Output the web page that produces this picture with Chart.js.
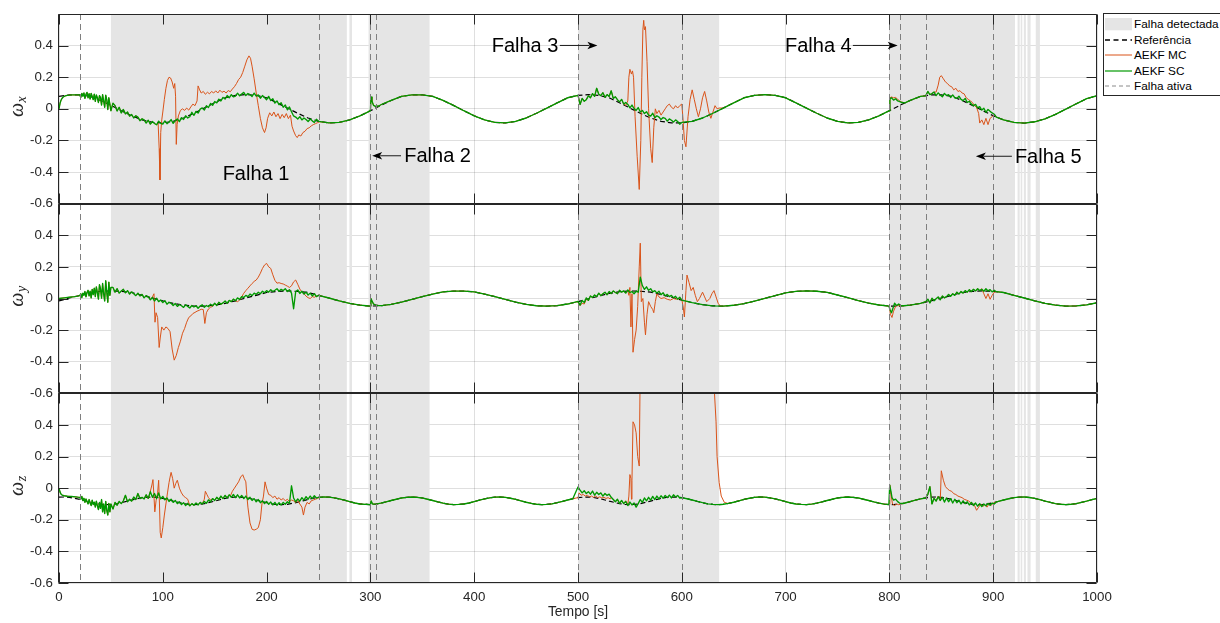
<!DOCTYPE html>
<html><head><meta charset="utf-8">
<script src="https://cdn.jsdelivr.net/npm/chart.js"></script>
<style>
html,body{margin:0;padding:0;background:#fff;overflow:hidden;}
#wrap{position:relative;width:1220px;height:623px;}
canvas{display:block;}
#legend{position:absolute;left:1103px;top:13px;width:130px;height:83px;box-sizing:border-box;border:1px solid #262626;background:#fff;font-family:'Liberation Sans',Arial,sans-serif;font-size:11.8px;color:#000;}
#legend .sw{position:absolute;left:1px;}
#legend .tx{position:absolute;left:30px;line-height:14px;white-space:nowrap;}
</style></head>
<body>
<div id="wrap">
<canvas id="c" width="1220" height="623"></canvas>
<div id="legend">
 <svg class="sw" style="top:3.7px" width="27" height="13"><rect x="0" y="0" width="27" height="12.3" fill="#e5e5e5"/></svg><span class="tx" style="top:3px">Falha detectada</span>
 <svg class="sw" style="top:20.5px" width="27" height="10"><line x1="0" y1="5" x2="27" y2="5" stroke="#000" stroke-width="1.6" stroke-dasharray="5,3.5"/></svg><span class="tx" style="top:18.5px">Referência</span>
 <svg class="sw" style="top:36px" width="27" height="10"><line x1="0" y1="5" x2="27" y2="5" stroke="#D95319" stroke-width="1"/></svg><span class="tx" style="top:34px">AEKF MC</span>
 <svg class="sw" style="top:51.5px" width="27" height="10"><line x1="0" y1="5" x2="27" y2="5" stroke="#009900" stroke-width="1.2"/></svg><span class="tx" style="top:49.5px">AEKF SC</span>
 <svg class="sw" style="top:67px" width="27" height="10"><line x1="0" y1="5" x2="27" y2="5" stroke="#8a8a8a" stroke-width="1" stroke-dasharray="4,3"/></svg><span class="tx" style="top:65px">Falha ativa</span>
</div>
</div>
<script>
// ---------------- DATA ----------------
const tStep10 = 10, tStep5 = 5;
const refX = [0.079,0.088,0.088,0.079,0.053,0.022,-0.012,-0.044,-0.070,-0.086,
-0.089,-0.079,-0.058,-0.028,0.005,0.038,0.070,0.085,0.090,0.085,
0.070,0.038,0.005,-0.028,-0.058,-0.079,-0.089,-0.086,-0.070,-0.044,
-0.012,0.022,0.053,0.079,0.088,0.088,0.079,0.053,0.022,-0.012,
-0.044,-0.070,-0.086,-0.089,-0.079,-0.058,-0.028,0.005,0.038,0.070,
0.085,0.090,0.085,0.070,0.038,0.005,-0.028,-0.058,-0.079,-0.089,
-0.089,-0.079,-0.058,-0.028,0.005,0.038,0.070,0.085,0.090,0.085,
0.070,0.038,0.005,-0.028,-0.058,-0.079,-0.089,-0.086,-0.070,-0.044,
-0.012,0.022,0.053,0.079,0.088,0.088,0.079,0.053,0.022,-0.012,
-0.044,-0.070,-0.086,-0.090,-0.082,-0.063,-0.035,-0.002,0.032,0.064,
0.083];
const refY = [-0.015,0.003,0.020,0.038,0.045,0.048,0.045,0.038,0.020,0.003,
-0.015,-0.031,-0.042,-0.048,-0.048,-0.042,-0.031,-0.015,0.003,0.020,
0.038,0.045,0.048,0.045,0.038,0.020,0.003,-0.015,-0.031,-0.042,
-0.048,-0.046,-0.037,-0.023,-0.006,0.012,0.028,0.042,0.047,0.047,
0.042,0.028,0.012,-0.006,-0.023,-0.037,-0.046,-0.048,-0.045,-0.035,
-0.020,-0.002,0.015,0.032,0.043,0.048,0.046,0.040,0.025,0.008,
-0.010,-0.026,-0.039,-0.047,-0.048,-0.043,-0.032,-0.017,0.001,0.018,
0.036,0.045,0.048,0.046,0.039,0.022,0.005,-0.013,-0.029,-0.041,
-0.048,-0.048,-0.042,-0.031,-0.015,0.003,0.020,0.038,0.045,0.048,
0.045,0.038,0.020,0.003,-0.015,-0.031,-0.042,-0.048,-0.047,-0.040,
-0.027];
const refZ = [-0.057,-0.056,-0.058,-0.064,-0.071,-0.080,-0.089,-0.096,-0.102,-0.104,
-0.103,-0.099,-0.092,-0.084,-0.075,-0.067,-0.060,-0.057,-0.056,-0.059,
-0.065,-0.073,-0.082,-0.090,-0.098,-0.102,-0.104,-0.102,-0.098,-0.090,
-0.082,-0.073,-0.065,-0.059,-0.056,-0.057,-0.060,-0.067,-0.075,-0.084,
-0.092,-0.099,-0.103,-0.104,-0.102,-0.096,-0.089,-0.080,-0.071,-0.064,
-0.058,-0.056,-0.057,-0.061,-0.068,-0.076,-0.085,-0.094,-0.100,-0.103,
-0.104,-0.101,-0.095,-0.087,-0.078,-0.070,-0.062,-0.058,-0.056,-0.058,
-0.062,-0.070,-0.078,-0.087,-0.095,-0.101,-0.104,-0.103,-0.100,-0.094,
-0.085,-0.076,-0.068,-0.061,-0.057,-0.056,-0.058,-0.064,-0.071,-0.080,
-0.089,-0.096,-0.102,-0.104,-0.103,-0.099,-0.092,-0.084,-0.075,-0.067,
-0.060,-0.057,-0.056,-0.059,-0.065,-0.073,-0.082,-0.090,-0.098,-0.102,
-0.104,-0.102,-0.098,-0.090,-0.082,-0.073,-0.065,-0.059,-0.056,-0.057,
-0.060,-0.067,-0.075,-0.084,-0.092,-0.099,-0.103,-0.104,-0.102,-0.096,
-0.089,-0.080,-0.071,-0.064,-0.058,-0.056,-0.057,-0.061,-0.068,-0.076,
-0.085,-0.094,-0.100,-0.103,-0.104,-0.101,-0.095,-0.087,-0.078,-0.070,
-0.062,-0.058,-0.056,-0.058,-0.062,-0.070,-0.078,-0.087,-0.095,-0.101,
-0.104,-0.103,-0.100,-0.094,-0.085,-0.076,-0.068,-0.061,-0.057,-0.056,
-0.058,-0.064,-0.071,-0.080,-0.089,-0.096,-0.102,-0.104,-0.103,-0.099,
-0.092,-0.084,-0.075,-0.067,-0.060,-0.057,-0.056,-0.059,-0.065,-0.073,
-0.082,-0.090,-0.098,-0.102,-0.104,-0.102,-0.098,-0.090,-0.082,-0.073,
-0.065];

// AEKF SC (green): stretches where it departs from the reference
const scX0 = [0,0, 1,0.035, 2,0.055, 3,0.067, 4,0.075, 6,0.082, 8,0.085, 10,0.087, 13,0.088, 16,0.088, 18,0.088];
const scX1a = [0.088,0.072,0.098,0.080,0.101,0.066,0.092,0.104,0.070,0.096,
0.062,0.098,0.078,0.058,0.093,0.047,0.088,0.068,0.040,0.084,
0.071,0.024,0.090,0.050,0.010,0.086,0.058,-0.004,0.070,0.030,-0.012];
const scX1 = [0.036,0.020,-0.014,0.010,
-0.026,-0.004,-0.032,-0.020,-0.046,-0.036,-0.058,-0.044,-0.052,-0.075,
-0.063,-0.070,-0.090,-0.072,-0.097,-0.080,-0.093,-0.101,-0.078,-0.092,
-0.097,-0.076,-0.094,-0.083,-0.068,-0.092,-0.074,-0.064,-0.081,-0.056,
-0.067,-0.044,-0.058,-0.050,-0.022,-0.041,-0.016,-0.027,-0.002,0.006,
-0.008,0.020,0.008,0.034,0.022,0.046,0.038,0.061,0.050,0.072,
0.062,0.084,0.070,0.090,0.076,0.081,0.099,0.082,0.094,0.104,
0.084,0.097,0.090,0.078,0.099,0.081,0.088,0.067,0.084,0.072,
0.058,0.079,0.052,0.064,0.036,0.050,0.026,0.038,0.010,0.024,
-0.006,0.012,-0.018,-0.045,-0.052,-0.064,-0.050,-0.070,-0.058,-0.068,
-0.080,-0.064,-0.076,-0.086,-0.066,-0.079];
const scX2 = [296,-0.025, 299,-0.015, 300,-0.012, 300.6,0.075, 301.5,0.05, 303,0.022, 305,0.015, 308,0.018, 312,0.032];
const scX3 = [0.085,0.028,0.066,0.048,0.058,0.082,0.070,0.096,0.079,0.130,
0.092,0.084,0.102,0.073,0.090,0.078,0.114,0.066,0.076,0.058,
0.044,0.060,0.030,0.040,0.028,0.006,0.024,0.002,-0.010,0.008,
-0.020,-0.010,-0.030,-0.018,-0.040,-0.046,-0.028,-0.056,-0.044,-0.052,
-0.068,-0.055,-0.060,-0.078,-0.064,-0.072,-0.084,-0.070,-0.080,-0.097,
-0.086];
const scX4 = [798,-0.018, 800,-0.012, 800.5,0.062, 802,0.070, 804,0.055, 806,0.064, 808,0.050, 810,0.046, 812,0.040, 815,0.038];
const scX5 = [0.082,0.110,0.090,0.096,0.106,0.084,0.101,0.088,0.076,0.098,
0.084,0.090,0.072,0.088,0.070,0.066,0.080,0.060,0.052,0.066,
0.040,0.048,0.030,0.020,0.028,0.006,0.014,-0.008,0.004,-0.022,
-0.004,-0.016,-0.026,-0.034,-0.052];

const scY0 = [0,0.0, 5,0.004, 10,0.008, 15,0.012, 18,0.015];
const scY1a = [0.018,0.030,0.006,0.034,0.020,0.044,0.010,0.038,0.052,0.016,
0.046,0.004,0.058,0.024,0.066,0.012,0.074,0.036,-0.004,0.088,
0.060,0.002,0.095,0.030,-0.016,0.112,0.040,-0.024,0.104,0.020,0.070];
const scY1 = [0.070,0.040,0.062,0.034,
0.048,0.058,0.036,0.050,0.028,0.042,0.030,0.018,0.034,0.016,
0.026,0.004,0.018,0.010,-0.008,0.006,-0.016,0.002,-0.020,-0.010,
-0.026,-0.014,-0.036,-0.024,-0.030,-0.044,-0.032,-0.050,-0.038,-0.046,
-0.056,-0.040,-0.050,-0.060,-0.044,-0.054,-0.046,-0.062,-0.048,-0.040,
-0.056,-0.044,-0.052,-0.036,-0.046,-0.030,-0.044,-0.024,-0.036,-0.028,
-0.016,-0.030,-0.012,-0.020,-0.004,-0.014,0.004,-0.006,0.012,0.006,
0.020,0.012,0.028,0.018,0.034,0.026,0.040,0.030,0.046,0.036,
0.050,0.040,0.056,0.044,0.052,0.062,0.046,0.058,0.050,0.062,
0.044,0.056,0.034,-0.065,0.042,0.054,0.032,0.046,0.028,0.040,
0.022,0.034,0.016,0.030,0.012,0.020];
const scY2 = [296,-0.046, 299,-0.048, 300,-0.048, 300.5,0.0, 301.5,-0.015, 303,-0.035, 305,-0.04, 308,-0.045, 312,-0.044];
const scY3 = [-0.018,-0.042,-0.012,-0.026,0.004,-0.012,0.016,0.006,0.022,0.012,
0.034,0.018,0.030,0.040,0.024,0.044,0.032,0.048,0.038,0.030,
0.052,0.040,0.048,0.034,0.054,0.038,0.044,0.030,0.046,0.040,
0.135,0.082,0.058,0.074,0.052,0.062,0.042,0.050,0.034,0.046,
0.024,0.036,0.016,0.026,0.012,0.020,0.004,0.014,-0.004,0.008,
-0.010];
const scY4 = [798,-0.047, 799.5,-0.048, 800.5,-0.07, 802,-0.09, 803.5,-0.06, 805,-0.03, 807,-0.045, 809,-0.035, 811,-0.046, 814,-0.046];
const scY5 = [-0.020,-0.004,-0.028,0.002,-0.014,-0.002,0.010,-0.008,0.016,0.004,
0.012,0.026,0.014,0.030,0.020,0.040,0.028,0.044,0.034,0.050,
0.040,0.056,0.044,0.058,0.048,0.062,0.050,0.058,0.046,0.062,
0.048,0.056,0.042,0.052,0.043];

const scZ0 = [0,0.0, 1,-0.025, 2,-0.038, 3,-0.044, 5,-0.048, 8,-0.051, 12,-0.053, 16,-0.055, 18,-0.057];
const scZ1a = [-0.058,-0.070,-0.052,-0.078,-0.064,-0.090,-0.068,-0.084,-0.100,-0.072,
-0.094,-0.110,-0.076,-0.104,-0.088,-0.120,-0.082,-0.112,-0.136,-0.090,
-0.128,-0.072,-0.150,-0.100,-0.160,-0.084,-0.140,-0.170,-0.096,-0.150,-0.100];
const scZ1 = [-0.132,-0.090,-0.108,-0.084,
-0.098,-0.080,-0.045,-0.086,-0.070,-0.082,-0.056,-0.072,-0.034,-0.066,
-0.058,-0.068,-0.042,-0.064,-0.022,-0.058,-0.034,-0.066,-0.030,-0.068,
-0.052,-0.074,-0.062,-0.084,-0.070,-0.090,-0.078,-0.098,-0.086,-0.104,
-0.092,-0.110,-0.096,-0.112,-0.098,-0.108,-0.094,-0.106,-0.090,-0.100,
-0.084,-0.096,-0.074,-0.086,-0.066,-0.078,-0.058,-0.072,-0.050,-0.066,
-0.046,-0.062,-0.042,-0.058,-0.040,-0.060,-0.042,-0.062,-0.046,-0.066,
-0.050,-0.072,-0.058,-0.078,-0.066,-0.086,-0.072,-0.092,-0.080,-0.098,
-0.084,-0.102,-0.088,-0.106,-0.090,-0.108,-0.092,-0.106,-0.090,-0.102,
-0.086,-0.096,0.015,-0.062,-0.086,-0.068,-0.082,-0.060,-0.076,-0.054,
-0.070,-0.050,-0.066,-0.048,-0.062,-0.058];
const scZ2 = [296,-0.102, 299,-0.104, 300,-0.104, 300.7,-0.08, 302,-0.1, 305,-0.101, 310,-0.095];
const scZ3 = [0.008,-0.012,-0.030,-0.016,-0.034,-0.022,-0.038,-0.018,-0.044,-0.026,
-0.040,-0.030,-0.050,-0.034,-0.046,-0.038,-0.058,-0.072,-0.086,-0.070,
-0.096,-0.078,-0.098,-0.084,-0.110,-0.088,-0.106,-0.094,-0.120,-0.098,
-0.072,-0.090,-0.062,-0.080,-0.058,-0.076,-0.052,-0.072,-0.050,-0.068,
-0.048,-0.064,-0.046,-0.060,-0.044,-0.062,-0.042,-0.056,-0.046,-0.062,
-0.060];
const scZ4 = [798,-0.103, 799.5,-0.104, 800.3,0.02, 801.5,-0.02, 802.5,-0.06, 804,-0.075, 806,-0.07, 808,-0.085, 810,-0.095, 813,-0.097];
const scZ5 = [-0.062,-0.040,0.010,-0.100,-0.064,-0.082,-0.054,-0.078,-0.058,-0.088,
-0.062,-0.086,-0.066,-0.094,-0.070,-0.092,-0.076,-0.100,-0.080,-0.098,
-0.086,-0.106,-0.090,-0.110,-0.094,-0.114,-0.098,-0.116,-0.100,-0.112,
-0.096,-0.108,-0.094,-0.100,-0.087];

// AEKF MC (orange): stretches where it departs from AEKF SC, [t, v, ...]
const mcX1 = [94,-0.100, 95.5,-0.09, 96.5,-0.25, 97.3,-0.45, 98,-0.15, 99,-0.07, 100,-0.02, 101.5,0.06, 103,0.13, 104.5,0.18, 106,0.2, 107.5,0.195, 109,0.17, 110.5,0.13, 111.5,0.16, 112.3,0.08, 113,-0.225, 113.8,-0.1, 115,-0.045, 117,-0.01, 119,0.0, 121,-0.01, 123,0.005, 125,-0.008, 127,0.012, 129,0.03, 131,0.02, 133,0.05, 134,0.145, 135.5,0.12, 137,0.1, 139,0.11, 141,0.092, 143,0.105, 145,0.095, 147,0.11, 149,0.1, 151,0.114, 153,0.1, 155,0.118, 157,0.104, 159,0.112, 161,0.1, 163,0.116, 165,0.108, 167,0.125, 169,0.14, 171,0.16, 173,0.185, 175,0.2, 177,0.23, 179,0.27, 181,0.31, 183,0.335, 184.5,0.32, 186,0.27, 188,0.19, 190,0.1, 192,0.02, 194,-0.06, 196,-0.12, 198,-0.15, 199.5,-0.12, 201,-0.06, 203,-0.025, 205,-0.045, 207,-0.02, 209,-0.05, 211,-0.03, 213,-0.062, 215,-0.035, 217,-0.056, 219,-0.03, 221,-0.062, 223,-0.04, 224.5,-0.11, 226,-0.14, 228,-0.17, 229.5,-0.182, 231,-0.165, 233,-0.172, 235,-0.15, 237,-0.142, 239,-0.125, 241,-0.12, 243,-0.108, 245,-0.1, 247,-0.094, 249,-0.088, 251,-0.082];
const mcX2 = [546,0.022, 548,0.05, 549,0.2, 550,0.25, 551.5,0.22, 552.5,0.24, 553.5,0.2, 555,-0.05, 557,-0.3, 559,-0.51, 560.5,-0.2, 561.5,0.2, 562.5,0.5, 563.3,0.56, 564,0.5, 565,0.52, 566.5,0.3, 568,0.0, 570,-0.25, 571.5,-0.34, 573,-0.12, 574.5,0.0, 576,-0.03, 578,-0.01, 580,-0.04, 582,-0.02, 584,0.0, 586,0.02, 588,0.03, 590,0.01, 592,0.0, 594,0.02, 596,0.005, 598,0.02, 600,0.03, 601,-0.05, 602.5,-0.2, 604,-0.24, 606,-0.05, 608,0.06, 610,0.12, 612,0.06, 614,0.0, 616,-0.05, 618,0.0, 620,0.07, 622,0.11, 624,0.05, 626,-0.02, 628,-0.06, 630,-0.02, 632,0.02, 634,0.0, 636,0.005, 640,0.005];
const mcX3 = [800,-0.012, 800.5,0.07, 802,0.075, 804,0.07, 806,0.072, 808,0.06, 810,0.05, 812,0.042, 815,0.038];
const mcX4 = [845,0.106, 847,0.15, 848.5,0.2, 850,0.21, 852,0.19, 854,0.17, 856,0.16, 858,0.145, 860,0.14, 862,0.12, 864,0.13, 866,0.11, 868,0.115, 870,0.1, 872,0.095, 874,0.07, 876,0.06, 878,0.05, 880,0.04, 882,0.02, 884,0.01, 886,-0.03, 887,-0.09, 889,-0.07, 891,-0.1, 893,-0.06, 895,-0.1, 897,-0.06, 899,-0.05, 901,-0.035, 903,-0.052];

const mcY1 = [90,0.01, 91.5,0.03, 92.5,-0.15, 93.5,-0.09, 95,-0.12, 96.5,-0.31, 97.5,-0.25, 99,-0.18, 101,-0.2, 103,-0.18, 105,-0.19, 107,-0.21, 109,-0.32, 111,-0.39, 113,-0.36, 115,-0.31, 117,-0.27, 119,-0.22, 121,-0.19, 123,-0.15, 125,-0.12, 127,-0.11, 129,-0.095, 131,-0.088, 133,-0.08, 135,-0.075, 137,-0.068, 139,-0.07, 140.5,-0.158, 142,-0.09, 144,-0.066, 146,-0.055, 148,-0.05];
const mcY2 = [172,-0.02, 174,-0.01, 176,0.01, 178,0.033, 180,0.05, 182,0.065, 184,0.08, 186,0.095, 188,0.108, 190,0.117, 192,0.135, 194,0.16, 196,0.19, 198,0.212, 200,0.222, 202,0.2, 204,0.19, 206,0.15, 208,0.115, 210,0.097, 212,0.1, 214,0.095, 216,0.092, 218,0.085, 220,0.078, 222,0.07, 224,0.08, 226,0.105, 228,0.117, 230,0.09, 232,0.06, 234,0.04, 236,0.03, 238,0.015, 240,0.005, 242,0.0, 244,0.012, 246,0.008, 248,0.015, 250,0.02];
const mcY3 = [500,-0.02, 502,-0.045, 504,-0.03, 506,-0.035, 508,-0.005];
const mcY4 = [548,0.05, 549,0.02, 550,0.07, 551,-0.18, 552,0.03, 553,-0.34, 554.5,-0.26, 556,-0.2, 557.5,-0.05, 559,0.2, 560,0.35, 561,-0.02, 562.5,0.0, 564,-0.15, 565,-0.23, 566.5,-0.1, 568,-0.02, 570,-0.05, 572,-0.07, 573,-0.09, 574.5,-0.02, 576,0.03, 578,0.01, 580,0.0, 583,0.005, 586,-0.005, 589,-0.01, 592,0.0, 595,-0.005, 598,0.0, 600,-0.005, 601.5,-0.06, 602.5,-0.117, 604,0.05, 605,0.148, 607,0.1, 609,0.05, 611,0.07, 613,0.02, 615,-0.02, 617,0.0, 620,0.04, 622,0.01, 624,-0.02, 627,0.0, 629,0.03, 631,0.05, 633,0.01, 635,-0.03, 637,-0.048, 640,-0.048];
const mcY5 = [798,-0.047, 800,-0.05, 801,-0.1, 802.5,-0.12, 804,-0.08, 806,-0.05, 808,-0.045, 811,-0.046];
const mcY6 = [889,0.062, 891,0.03, 893,0.0, 895,0.03, 897,-0.005, 899,0.02, 901,0.04, 903,0.043];

const mcZ1 = [86,-0.068, 88,-0.02, 89.5,0.02, 90.5,0.054, 91.5,-0.05, 92.3,-0.15, 93.5,-0.08, 95,-0.03, 96,0.05, 96.8,-0.1, 97.5,-0.28, 98.5,-0.315, 100,-0.25, 101.5,-0.17, 103,-0.1, 104.5,-0.03, 106,0.035, 107,0.07, 108,0.1, 109.5,0.06, 111,0.0, 112.5,0.03, 114,0.05, 116,0.0, 118,-0.03, 120,-0.05, 122,-0.06, 124,-0.07];
const mcZ2 = [140,-0.07, 141,-0.02, 142.5,-0.04, 144,-0.06, 146,-0.075];
const mcZ3 = [165,-0.05, 167,-0.02, 169,0.0, 171,0.02, 173,0.04, 175,0.07, 177,0.085, 178.5,0.06, 180,0.04, 181,-0.05, 182,-0.12, 184,-0.22, 186,-0.26, 188,-0.265, 190,-0.26, 192,-0.25, 194,-0.2, 195.5,-0.1, 197,-0.05, 198.5,0.04, 200,0.0, 202,-0.04, 204,-0.045, 206,-0.06, 208,-0.05, 210,-0.07, 212,-0.06, 214,-0.075, 216,-0.065, 218,-0.08, 220,-0.07, 222,-0.085, 224,-0.075, 226,-0.08, 228,-0.09, 230,-0.08, 232,-0.1, 234,-0.12, 235.5,-0.17, 237,-0.12, 239,-0.09, 241,-0.1, 243,-0.08, 245,-0.075, 247,-0.07, 249,-0.065, 251,-0.058];
const mcZ4 = [500,-0.06, 501,-0.03, 503,-0.045, 505,-0.04, 507,-0.05, 509,-0.045, 511,-0.055, 513,-0.05, 515,-0.058, 517,-0.05, 519,-0.06, 521,-0.055, 523,-0.062, 525,-0.058, 527,-0.065, 529,-0.06, 531,-0.068];
const mcZ5 = [546,-0.08, 548,-0.105, 549,-0.05, 550,0.086, 551,0.06, 551.5,-0.07, 552,0.05, 553,0.42, 554.5,0.4, 556,0.35, 557.5,0.2, 559,0.14, 560,0.8, 561,1.5, 630,1.5, 631.5,0.6, 633,0.42, 634,0.2, 636,0.035, 638,-0.05, 641,-0.09, 644,-0.096];
const mcZ6 = [798,-0.103, 800,-0.104, 800.4,0.02, 801.5,-0.04, 803,-0.1, 805,-0.11, 807,-0.1, 809,-0.105, 811,-0.1, 813,-0.097];
const mcZ7 = [847,-0.05, 849,-0.08, 850,0.11, 852,0.05, 854,0.01, 856,-0.005, 858,-0.015, 860,-0.02, 862,-0.035, 864,-0.04, 866,-0.05, 868,-0.055, 870,-0.06, 872,-0.07, 874,-0.075, 876,-0.08, 878,-0.09, 880,-0.095, 882,-0.11, 884,-0.14, 886,-0.12, 888,-0.1, 890,-0.115, 892,-0.105, 894,-0.12, 896,-0.1, 898,-0.11, 900,-0.095, 903,-0.087];

// fault detected intervals (s) and fault activation instants (s)
const detStart = [50, 279.8, 298.2, 500, 800, 923.5, 926.5, 929.5, 933, 941];
const detEnd   = [277.3, 282.3, 357, 636, 921, 925.5, 928, 931.5, 936, 945];
const faultT = [20, 250, 300, 305, 500, 600, 800, 810, 835, 900];

// annotations
const annText = ['Falha 1', 'Falha 2', 'Falha 3', 'Falha 4', 'Falha 5'];
const annT = [189.8, 332.6, 481.1, 763.7, 920.9];
const annV = [-0.406, -0.297, 0.401, 0.401, -0.300];
const annAlign = ['center', 'left', 'right', 'right', 'left'];
const arrFrom = [null, 329.5, 482.5, 764.8, 918];
const arrTo   = [null, 301.7, 518.7, 808.0, 883.3];

// ---------------- BUILD ----------------
const P = f => { const o = []; for (let i = 0; i < f.length; i += 2) o.push({x: f[i], y: f[i + 1]}); return o; };
const S = (t0, v, dt = 2) => v.map((y, i) => ({x: t0 + dt * i, y}));
const R = (step, v) => v.map((y, i) => ({x: i * step, y}));
function overlay(base, segs) {
  const rng = segs.map(s => [s[0].x, s[s.length - 1].x]);
  const out = base.filter(p => !rng.some(([a, b]) => p.x >= a && p.x <= b));
  segs.forEach(s => out.push(...s));
  return out.sort((p, q) => p.x - q.x);
}
const rX = R(tStep10, refX), rY = R(tStep10, refY), rZ = R(tStep5, refZ);
const gX = overlay(rX, [P(scX0), S(20, scX1a, 1), S(52, scX1), P(scX2), S(500, scX3), P(scX4), S(835, scX5)]);
const gY = overlay(rY, [P(scY0), S(20, scY1a, 1), S(52, scY1), P(scY2), S(500, scY3), P(scY4), S(835, scY5)]);
const gZ = overlay(rZ, [P(scZ0), S(20, scZ1a, 1), S(52, scZ1), P(scZ2), S(500, scZ3), P(scZ4), S(835, scZ5)]);
const oX = overlay(gX, [P(mcX1), P(mcX2), P(mcX3), P(mcX4)]);
const oY = overlay(gY, [P(mcY1), P(mcY2), P(mcY3), P(mcY4), P(mcY5), P(mcY6)]);
const oZ = overlay(gZ, [P(mcZ1), P(mcZ2), P(mcZ3), P(mcZ4), P(mcZ5), P(mcZ6), P(mcZ7)]);

const GREEN = '#009900', ORANGE = '#D95319', SHADE = '#e5e5e5', AX = '#262626';
const FONT = "'Liberation Sans', Arial, Helvetica, sans-serif";
Chart.defaults.font.family = FONT;

function sets(id, r, o, g) {
  return [
    {label: 'AEKF SC', data: g, yAxisID: id, borderColor: GREEN, borderWidth: 1.35, order: 1},
    {label: 'AEKF MC', data: o, yAxisID: id, borderColor: ORANGE, borderWidth: 1, order: 2},
    {label: 'Referência', data: r, yAxisID: id, borderColor: '#000', borderWidth: 1.2, borderDash: [5, 3], order: 3}
  ];
}
const fmt = v => { const r = Math.round(v * 10) / 10; return r === 0 ? '0' : String(r); };
const yOpt = w => ({
  type: 'linear', position: 'left', stack: 'ax', stackWeight: 1, weight: w,
  min: -0.6, max: 0.6,
  ticks: {stepSize: 0.2, autoSkip: false, font: {size: 13.3}, color: AX, padding: 6, callback: v => Math.abs(v - 0.6) < 1e-6 ? '' : fmt(v)},
  grid: {color: 'rgba(38,38,38,0.15)', drawTicks: false},
  border: {display: false},
  afterFit: s => { s.width = 59; }
});

const clipPlugin = {
  id: 'clipY',
  beforeDatasetDraw(chart, args) {
    const ys = chart.scales[args.meta.yAxisID], ca = chart.chartArea, ctx = chart.ctx;
    ctx.save(); ctx.beginPath(); ctx.rect(ca.left, ys.top, ca.right - ca.left, ys.bottom - ys.top); ctx.clip();
  },
  afterDatasetDraw(chart) { chart.ctx.restore(); }
};

function arrow(ctx, x1, x2, y) {
  ctx.beginPath(); ctx.moveTo(x1, y); ctx.lineTo(x2 + (x2 < x1 ? 8 : -8), y); ctx.stroke();
  const d = x2 < x1 ? 1 : -1;
  ctx.beginPath(); ctx.moveTo(x2, y); ctx.lineTo(x2 + d * 10, y - 3.8); ctx.lineTo(x2 + d * 7.5, y); ctx.lineTo(x2 + d * 10, y + 3.8); ctx.closePath(); ctx.fill();
}

const deco = {
  id: 'deco',
  beforeDatasetsDraw(chart) {
    const {ctx, chartArea: ca, scales: {x}} = chart;
    ctx.save(); ctx.fillStyle = SHADE;
    for (let i = 0; i < detStart.length; i++) {
      const a = x.getPixelForValue(detStart[i]), b = x.getPixelForValue(detEnd[i]);
      ctx.fillRect(a, ca.top, b - a, ca.bottom - ca.top);
    }
    ctx.restore();
  },
  afterDatasetsDraw(chart) {
    const {ctx, chartArea: ca, scales} = chart; const x = scales.x;
    ctx.save();
    ctx.strokeStyle = '#7f7f7f'; ctx.lineWidth = 1; ctx.setLineDash([6, 4]);
    faultT.forEach(t => { const px = Math.round(x.getPixelForValue(t)) + 0.5; ctx.beginPath(); ctx.moveTo(px, ca.top); ctx.lineTo(px, ca.bottom); ctx.stroke(); });
    ctx.setLineDash([]);
    ctx.strokeStyle = AX; ctx.lineWidth = 1;
    const L = Math.round(ca.left) - 0.5, Rr = Math.round(ca.right) - 0.5, TL = 10;
    ['y1', 'y2', 'y3'].forEach(id => {
      const ys = scales[id]; const T = Math.round(ys.top) + 0.5, B = Math.round(ys.bottom) - 0.5;
      ctx.beginPath();
      ctx.moveTo(L, T); ctx.lineTo(Rr, T); ctx.moveTo(L, B); ctx.lineTo(Rr, B);
      ctx.moveTo(L, T); ctx.lineTo(L, B); ctx.moveTo(Rr, T); ctx.lineTo(Rr, B);
      ys.ticks.forEach(tk => { const py = Math.round(ys.getPixelForValue(tk.value)) + 0.5; ctx.moveTo(L, py); ctx.lineTo(L + TL, py); ctx.moveTo(Rr, py); ctx.lineTo(Rr - TL, py); });
      x.ticks.forEach(tk => { const px = Math.round(x.getPixelForValue(tk.value)) + 0.5; ctx.moveTo(px, T); ctx.lineTo(px, T + TL); ctx.moveTo(px, B); ctx.lineTo(px, B - TL); });
      ctx.stroke();
    });
    const y1 = scales.y1;
    ctx.fillStyle = '#000'; ctx.strokeStyle = '#1a1a1a'; ctx.font = '20px ' + FONT; ctx.textBaseline = 'middle';
    annText.forEach((s, i) => {
      const px = x.getPixelForValue(annT[i]), py = y1.getPixelForValue(annV[i]);
      ctx.textAlign = annAlign[i]; ctx.fillText(s, px, py + 1);
      if (arrFrom[i] !== null) arrow(ctx, x.getPixelForValue(arrFrom[i]), x.getPixelForValue(arrTo[i]), py);
    });
    ctx.restore();
  },
  afterDraw(chart) {
    const {ctx, scales} = chart; const subs = ['x', 'y', 'z'];
    ['y1', 'y2', 'y3'].forEach((id, k) => {
      const ys = scales[id]; const cy = (ys.top + ys.bottom) / 2 - 2;
      ctx.save(); ctx.translate(23, cy); ctx.rotate(-Math.PI / 2); ctx.fillStyle = AX; ctx.textBaseline = 'alphabetic'; ctx.textAlign = 'left';
      ctx.font = "italic 20px 'Liberation Serif', 'DejaVu Serif', serif"; const w1 = ctx.measureText('ω').width;
      ctx.font = "italic 14px 'Liberation Serif', 'DejaVu Serif', serif"; const w2 = ctx.measureText(subs[k]).width;
      const x0 = -(w1 + w2) / 2;
      ctx.font = "italic 20px 'Liberation Serif', 'DejaVu Serif', serif"; ctx.fillText('ω', x0, 0);
      ctx.font = "italic 14px 'Liberation Serif', 'DejaVu Serif', serif"; ctx.fillText(subs[k], x0 + w1 + 0.5, 2.5);
      ctx.restore();
    });
  }
};

new Chart(document.getElementById('c'), {
  type: 'line',
  data: {datasets: [...sets('y1', rX, oX, gX), ...sets('y2', rY, oY, gY), ...sets('y3', rZ, oZ, gZ)]},
  options: {
    responsive: false, animation: false, devicePixelRatio: 1, events: [],
    parsing: false, normalized: true,
    layout: {padding: {left: 0, right: 123, top: 14, bottom: 0}},
    plugins: {legend: {display: false}, tooltip: {enabled: false}},
    elements: {point: {radius: 0}, line: {tension: 0, borderJoinStyle: 'round'}},
    scales: {
      x: {type: 'linear', min: 0, max: 1000,
        ticks: {stepSize: 100, font: {size: 13.3}, color: AX, padding: 6, maxRotation: 0, callback: v => String(v)},
        grid: {color: 'rgba(38,38,38,0.15)', drawTicks: false}, border: {display: false},
        title: {display: true, text: 'Tempo [s]', font: {size: 13.9}, color: AX, padding: {top: 0, bottom: 2}},
        afterFit: s => { s.height = 40; }},
      y1: yOpt(3), y2: yOpt(2), y3: yOpt(1)
    }
  },
  plugins: [clipPlugin, deco]
});
</script>
</body></html>
